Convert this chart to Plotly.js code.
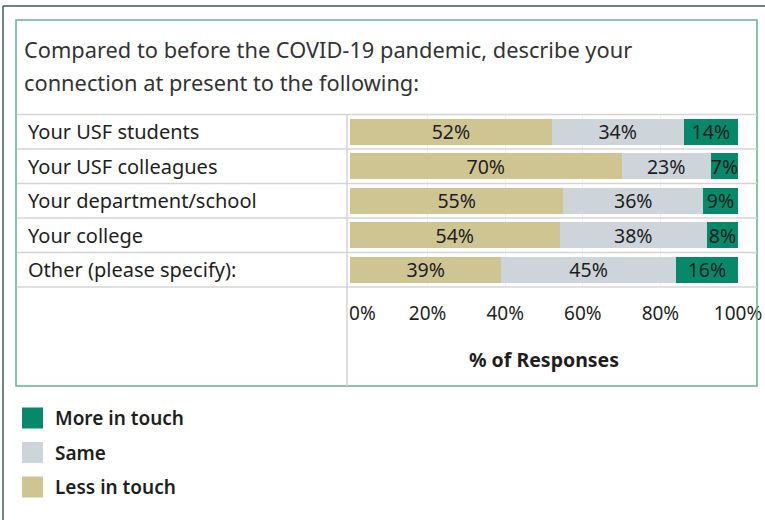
<!DOCTYPE html>
<html>
<head>
<meta charset="utf-8">
<script src="https://cdn.plot.ly/plotly-3.0.1.min.js"></script>
<style>
html,body{margin:0;padding:0;background:#fff;}
#chart{width:765px;height:520px;}
</style>
</head>
<body>
<div id="chart"></div>
<script>
// ---- data ----
const categories = ["Your USF students", "Your USF colleagues", "Your department/school", "Your college", "Other (please specify):"];
const lessInTouch = [52, 70, 55, 54, 39];
const same = [34, 23, 36, 38, 45];
const moreInTouch = [14, 7, 9, 8, 16];
const seriesNames = ["Less in touch", "Same", "More in touch"];
const tickValues = [0, 20, 40, 60, 80, 100];
const tickLabels = ["0%", "20%", "40%", "60%", "80%", "100%"];
const titleLines = ["Compared to before the COVID-19 pandemic, describe your", "connection at present to the following:"];
const axisTitle = "% of Responses";

// ---- style ----
const W = 765, H = 520;
const colors = {"Less in touch": "#CFC593", "Same": "#CDD4DA", "More in touch": "#05896A"};
const FONT = "Noto Sans, Open Sans, sans-serif";
const px = x => x / W;
const py = y => 1 - y / H;

const plotLeft = 350, plotRight = 738, rowTop = 114.5, rowBottom = 287;

const seriesValues = [lessInTouch, same, moreInTouch];
const traces = seriesNames.map((name, i) => ({
  type: "bar",
  orientation: "h",
  name: name,
  y: categories,
  x: seriesValues[i],
  marker: {color: colors[name], line: {width: 0}},
  width: 0.76,
  text: seriesValues[i].map(v => v + "%"),
  textposition: "inside",
  insidetextanchor: "middle",
  textfont: {family: FONT, size: 19.5, color: "#1e1e1e"},
  hoverinfo: "skip",
  showlegend: false
}));

const shapes = [];
const annotations = [];

// outer frame
shapes.push({type: "line", xref: "paper", yref: "paper", x0: px(3), x1: px(765), y0: py(6), y1: py(6), line: {color: "#3d5a5a", width: 1.5}});
shapes.push({type: "line", xref: "paper", yref: "paper", x0: px(3), x1: px(3), y0: py(6), y1: py(520), line: {color: "#3d5a5a", width: 1.5}});
// inner green box
shapes.push({type: "rect", xref: "paper", yref: "paper", x0: px(16), x1: px(757), y0: py(20), y1: py(386), line: {color: "#6aae93", width: 1.5}});
// row lines
const rowH = (rowBottom - rowTop) / categories.length;
for (let i = 0; i <= categories.length; i++) {
  const y = rowTop + i * rowH;
  shapes.push({type: "line", xref: "paper", yref: "paper", x0: px(17), x1: px(757), y0: py(y), y1: py(y), line: {color: "#d4d4d4", width: 1.5}});
}
// column divider
shapes.push({type: "line", xref: "paper", yref: "paper", x0: px(347), x1: px(347), y0: py(rowTop), y1: py(386), line: {color: "#d4d4d4", width: 1.5}});

// title
titleLines.forEach((t, i) => {
  annotations.push({xref: "paper", yref: "paper", x: px(22), y: py(50 + i * 32), xanchor: "left", yanchor: "middle", showarrow: false, text: t, font: {family: FONT, size: 21.8, color: "#333"}});
});
// row labels
categories.forEach(c => {
  annotations.push({xref: "paper", yref: "y", x: px(26), y: c, xanchor: "left", yanchor: "middle", showarrow: false, text: c, font: {family: FONT, size: 20, color: "#1e1e1e"}});
});
// legend (swatches + labels)
const legendOrder = seriesNames.slice().reverse();
legendOrder.forEach((name, i) => {
  const yc = 418 + i * 34.5;
  shapes.push({type: "rect", xref: "paper", yref: "paper", x0: px(22), x1: px(43), y0: py(yc - 10.5), y1: py(yc + 10.5), fillcolor: colors[name], line: {width: 0}});
  annotations.push({xref: "paper", yref: "paper", x: px(53), y: py(yc), xanchor: "left", yanchor: "middle", showarrow: false, text: name, font: {family: FONT, size: 19, color: "#1e1e1e", weight: 600}});
});

// first tick label is nudged inward (as in the original) with non-breaking spaces
const NB = "\u00A0";
const shownTicks = tickLabels.map((t, i) => (i === 0 ? NB.repeat(5) + t : t));

const layout = {
  width: W, height: H,
  margin: {l: 0, r: 0, t: 0, b: 0},
  paper_bgcolor: "#fff", plot_bgcolor: "#fff",
  barmode: "stack",
  showlegend: false,
  uniformtext: {mode: "show", minsize: 19},
  xaxis: {
    domain: [px(plotLeft), px(plotRight)],
    range: [0, 100],
    tickvals: tickValues,
    ticktext: shownTicks,
    ticklabeloverflow: "allow",
    showgrid: true, gridcolor: "#efefef", gridwidth: 1,
    zeroline: false, showline: false,
    ticks: "", ticklabelstandoff: 13,
    tickfont: {family: FONT, size: 19, color: "#1e1e1e"},
    title: {text: axisTitle, font: {family: FONT, size: 19.5, color: "#1e1e1e", weight: 700}, standoff: 28},
    fixedrange: true
  },
  yaxis: {
    domain: [py(rowBottom), py(rowTop)],
    type: "category",
    categoryorder: "array", categoryarray: categories,
    range: [categories.length - 0.5, -0.5],
    showticklabels: false, showgrid: false, zeroline: false, showline: false, ticks: "",
    fixedrange: true
  },
  shapes: shapes,
  annotations: annotations,
  font: {family: FONT}
};

Plotly.newPlot("chart", traces, layout, {displayModeBar: false, staticPlot: true});
</script>
</body>
</html>
